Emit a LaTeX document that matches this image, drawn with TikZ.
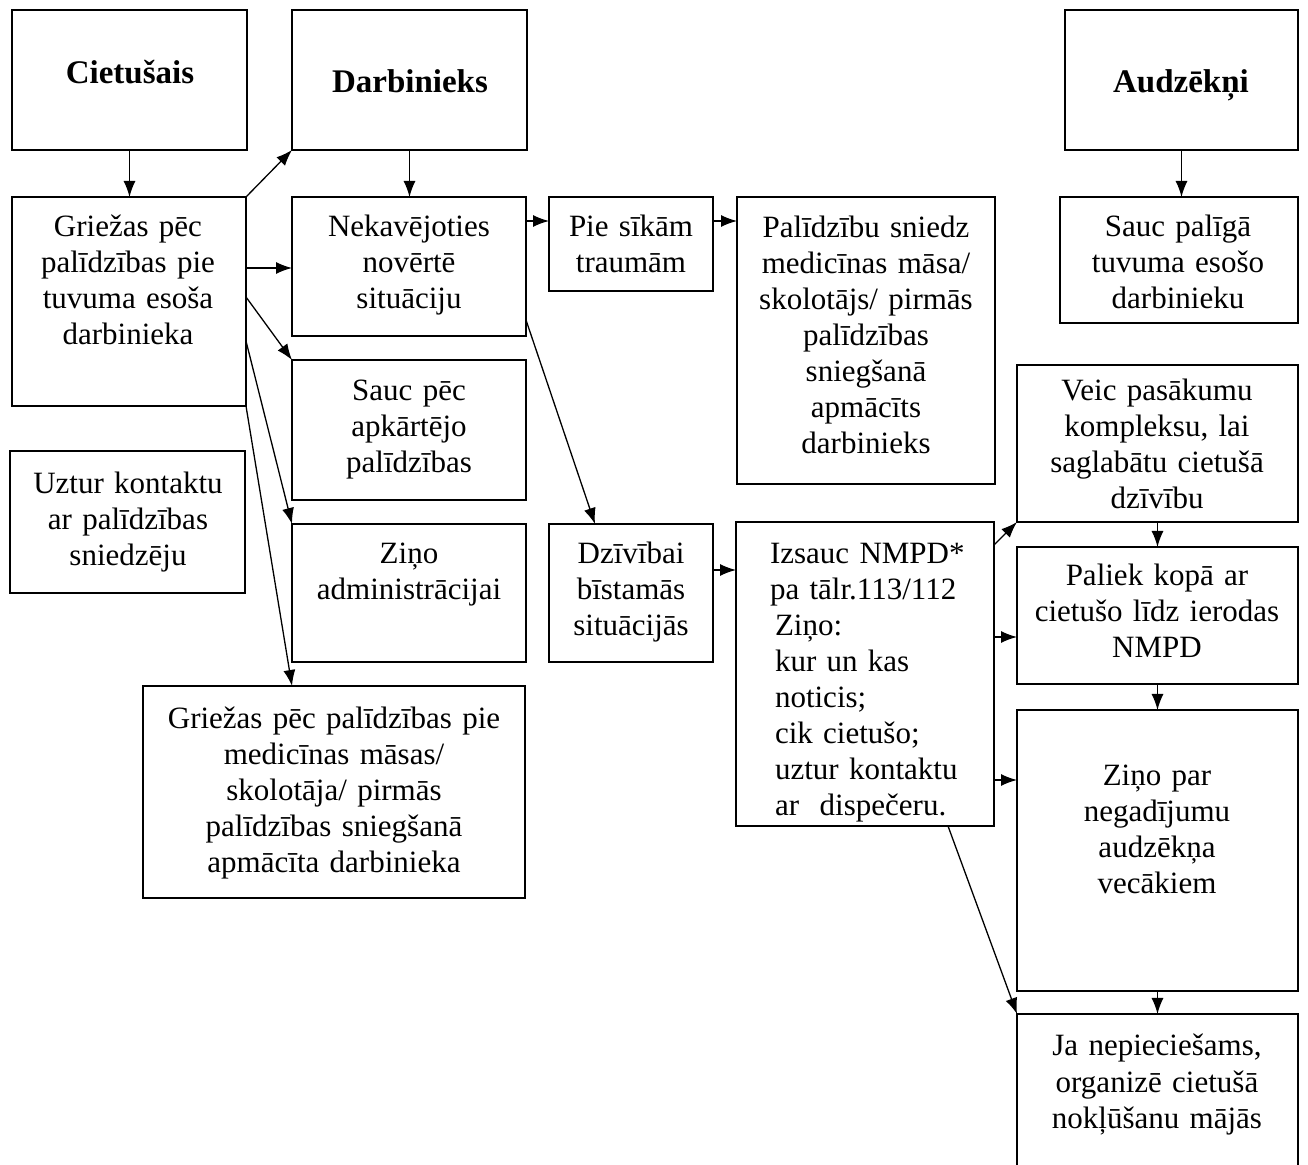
\documentclass[tikz,border=0pt]{standalone}
\usepackage{fontspec}
\setmainfont{Liberation Serif}
\usetikzlibrary{arrows.meta}
\newcommand\bx[5]{\node[box, minimum width={(#4-#2)*0.5pt}, minimum height={(#5-#3)*0.5pt}] (#1) at ({(#2+#4)/2},{(#3+#5)/2}) {};}
\begin{document}
\begin{tikzpicture}[x=0.5pt,y=-0.5pt,
  box/.style={draw, line width=0.75pt, inner sep=0pt, outer sep=0pt},
  txt/.style={inner sep=0pt, outer sep=0pt, anchor=north, yshift=12.6pt, align=center, text width=190pt, font=\fontsize{15.5}{18}\selectfont},
  txl/.style={inner sep=0pt, outer sep=0pt, anchor=north west, yshift=12.6pt, align=left, text width=125pt, font=\fontsize{15.5}{18}\selectfont},
  head/.style={inner sep=0pt, anchor=base, font=\fontsize{16.5}{19}\selectfont\bfseries},
  arr/.style={-{Latex[length=8pt,width=6pt]}, line width=0.65pt}]
\useasboundingbox (0,0) rectangle (1308,1165);
\clip (0,0) rectangle (1308,1165);
\fill[white] (0,0) rectangle (1308,1165);
% boxes
\bx{C}{12}{10}{247}{150}
\bx{D}{292}{10}{527}{150}
\bx{A}{1065}{10}{1298}{150}
\bx{G1}{12}{197}{246}{406}
\bx{N}{292}{197}{526}{336}
\bx{P}{549}{197}{713}{291}
\bx{PS}{737}{197}{995}{484}
\bx{SP}{1060}{197}{1298}{323}
\bx{SA}{292}{360}{526}{500}
\bx{UK}{10}{451}{245}{593}
\bx{ZA}{292}{524}{526}{662}
\bx{DB}{549}{524}{713}{662}
\bx{IN}{736}{522}{994}{826}
\bx{VP}{1017}{365}{1298}{522}
\bx{PK}{1017}{547}{1298}{684}
\bx{ZP}{1017}{710}{1298}{991}
\bx{JN}{1017}{1014}{1298}{1200}
\bx{G2}{143}{686}{525}{898}
% texts
\node[head] (tC) at (130,84) {Cietušais};
\node[head] (tD) at (410,93) {Darbinieks};
\node[head] (tA) at (1181,93) {Audzēkņi};
\node[txt] (tG1) at (128,237) {\strut Griežas pēc\\palīdzības pie\\tuvuma esoša\\darbinieka};
\node[txt] (tN) at (409,237) {\strut Nekavējoties\\novērtē\\situāciju};
\node[txt] (tP) at (631,237) {\strut Pie sīkām\\traumām};
\node[txt] (tPS) at (866,238) {\strut Palīdzību sniedz\\medicīnas māsa/\\skolotājs/ pirmās\\palīdzības\\sniegšanā\\apmācīts\\darbinieks};
\node[txt] (tSP) at (1178,237) {\strut Sauc palīgā\\tuvuma esošo\\darbinieku};
\node[txt] (tSA) at (409,401) {\strut Sauc pēc\\apkārtējo\\palīdzības};
\node[txt] (tUK) at (128,494) {\strut Uztur kontaktu\\ar palīdzības\\sniedzēju};
\node[txt] (tZA) at (409,564) {\strut Ziņo\\administrācijai};
\node[txt] (tDB) at (631,564) {\strut Dzīvībai\\bīstamās\\situācijās};
\node[txl] (tIN) at (770,564) {\strut Izsauc NMPD*\\pa tālr.113/112\\\hspace*{2.5pt}Ziņo:\\\hspace*{2.5pt}kur un kas\\\hspace*{2.5pt}noticis;\\\hspace*{2.5pt}cik cietušo;\\\hspace*{2.5pt}uztur kontaktu\\\hspace*{2.5pt}ar~~dispečeru.};
\node[txt] (tVP) at (1157,401) {\strut Veic pasākumu\\kompleksu, lai\\saglabātu cietušā\\dzīvību};
\node[txt] (tPK) at (1157,586) {\strut Paliek kopā ar\\cietušo līdz ierodas\\NMPD};
\node[txt] (tZP) at (1157,786) {\strut Ziņo par\\negadījumu\\audzēkņa\\vecākiem};
\node[txt] (tJN) at (1157,1056) {\strut Ja nepieciešams,\\organizē cietušā\\nokļūšanu mājās};
\node[txt] (tG2) at (334,729) {\strut Griežas pēc palīdzības pie\\medicīnas māsas/\\skolotāja/ pirmās\\palīdzības sniegšanā\\apmācīta darbinieka};
% connectors
\draw[arr] (C.south) -- (C.south |- G1.north);
\draw[arr] (D.south) -- (D.south |- N.north);
\draw[arr] (A.south) -- (A.south |- SP.north);
\draw[arr] (G1.north east) -- (D.south west);
\coordinate (g1a) at ([yshift=-35.5pt]G1.north east);
\draw[arr] (g1a) -- (g1a -| N.west);
\draw[arr] ([yshift=-50pt]G1.north east) -- (SA.north west);
\draw[arr] ([yshift=-72pt]G1.north east) -- (ZA.north west);
\draw[arr] (G1.south east) -- (G2.north -| SA.west);
\draw[arr] ([yshift=-12pt]N.north east) -- ([yshift=-12pt]P.north west);
\draw[arr] ([yshift=-12pt]P.north east) -- ([yshift=-12pt]PS.north west);
\draw[arr] ([yshift=8pt]N.south east) -- ([xshift=23pt]DB.north west);
\coordinate (db1) at ([yshift=-23pt]DB.north east);
\draw[arr] (db1) -- (db1 -| IN.west);
\draw[arr] ([yshift=-11.5pt]IN.north east) -- (VP.south west);
\coordinate (in1) at ([yshift=-57.5pt]IN.north east);
\draw[arr] (in1) -- (in1 -| PK.west);
\coordinate (in2) at ([yshift=-129pt]IN.north east);
\draw[arr] (in2) -- (in2 -| ZP.west);
\draw[arr] ([xshift=-23pt]IN.south east) -- (JN.north west);
\draw[arr] (VP.south) -- (VP.south |- PK.north);
\draw[arr] (PK.south) -- (PK.south |- ZP.north);
\draw[arr] (ZP.south) -- (ZP.south |- JN.north);
\end{tikzpicture}
\end{document}
